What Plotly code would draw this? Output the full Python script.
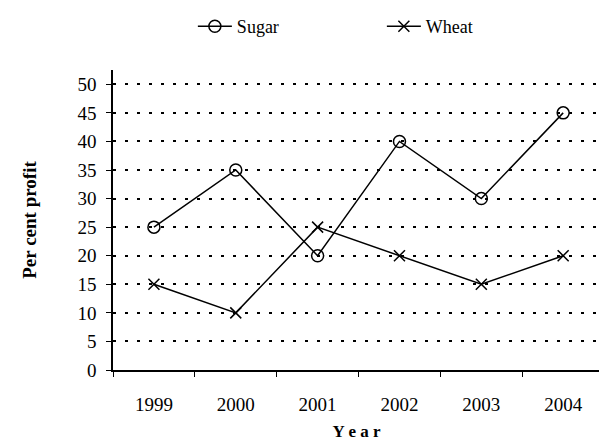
import plotly.graph_objects as go

years = ["1999", "2000", "2001", "2002", "2003", "2004"]
sugar = [25, 35, 20, 40, 30, 45]
wheat = [15, 10, 25, 20, 15, 20]
y_ticks = [0, 5, 10, 15, 20, 25, 30, 35, 40, 45, 50]

font = "Liberation Serif"

fig = go.Figure()
fig.add_trace(go.Scatter(
    x=years, y=sugar, name="Sugar", mode="lines+markers",
    line=dict(color="black", width=1.5),
    marker=dict(symbol="circle-open", size=12, color="black", line=dict(width=1.5)),
))
fig.add_trace(go.Scatter(
    x=years, y=wheat, name="Wheat", mode="lines+markers",
    line=dict(color="black", width=1.5),
    marker=dict(symbol="x-thin-open", size=11, color="black", line=dict(width=1.5)),
))

fig.update_layout(
    width=607, height=444,
    margin=dict(l=105, r=15, t=62, b=82, autoexpand=False),
    paper_bgcolor="white", plot_bgcolor="white",
    font=dict(family=font, size=19, color="black"),
    showlegend=True,
    legend=dict(orientation="h", x=0.164, xanchor="left", y=1.0, yref="container",
                yanchor="top", font=dict(size=18, family=font), itemwidth=34,
                entrywidth=140, tracegroupgap=0, bgcolor="rgba(0,0,0,0)"),
    xaxis=dict(
        type="category", range=[-0.5, 5.45], automargin=False,
        tickson="boundaries", ticks="outside", ticklen=5, tickcolor="black",
        showline=True, linecolor="black", linewidth=1.5,
        showgrid=False, zeroline=False, ticklabelstandoff=16,
        tickfont=dict(size=19, family=font),
        title=dict(text="<b>Y e a r</b>", font=dict(size=17, family=font), standoff=12),
    ),
    yaxis=dict(
        range=[0, 52.5], tickvals=y_ticks, ticks="outside", ticklen=5, tickcolor="black",
        showline=True, linecolor="black", linewidth=1.5, automargin=False,
        showgrid=True, gridcolor="black", griddash="3px,9px", gridwidth=2,
        zeroline=False, ticklabelstandoff=6,
        tickfont=dict(size=19, family=font),
        title=dict(text="<b>Per cent profit</b>", font=dict(size=19, family=font), standoff=36),
    ),
)

fig.write_html("out.html")
